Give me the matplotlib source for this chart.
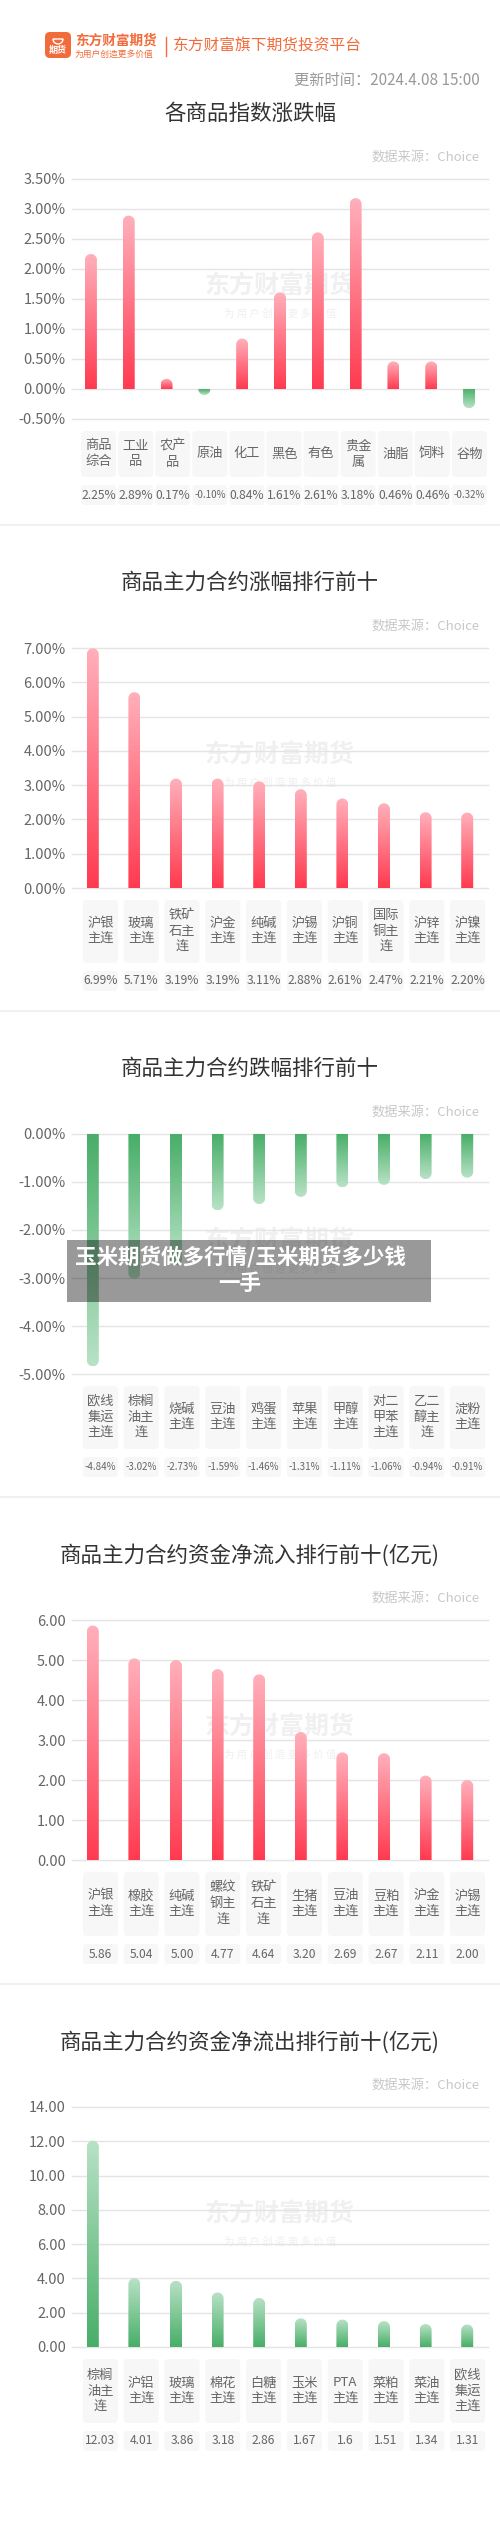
import numpy as np
import matplotlib
matplotlib.use('Agg')
import matplotlib.pyplot as plt
from matplotlib.patches import FancyBboxPatch, Polygon, Rectangle
from matplotlib.colors import LinearSegmentedColormap

plt.rcParams['font.family'] = ['Noto Sans CJK SC', 'DejaVu Sans']

# ---- data ----
update_time = "更新时间：2024.4.08 15:00"

idx_names = ["商品综合", "工业品", "农产品", "原油", "化工", "黑色", "有色", "贵金属", "油脂", "饲料", "谷物"]
idx_chg = [2.25, 2.89, 0.17, -0.10, 0.84, 1.61, 2.61, 3.18, 0.46, 0.46, -0.32]

up_names = ["沪银主连", "玻璃主连", "铁矿石主连", "沪金主连", "纯碱主连", "沪锡主连", "沪铜主连", "国际铜主连", "沪锌主连", "沪镍主连"]
up_chg = [6.99, 5.71, 3.19, 3.19, 3.11, 2.88, 2.61, 2.47, 2.21, 2.20]

down_names = ["欧线集运主连", "棕榈油主连", "烧碱主连", "豆油主连", "鸡蛋主连", "苹果主连", "甲醇主连", "对二甲苯主连", "乙二醇主连", "淀粉主连"]
down_chg = [-4.84, -3.02, -2.73, -1.59, -1.46, -1.31, -1.11, -1.06, -0.94, -0.91]

in_names = ["沪银主连", "橡胶主连", "纯碱主连", "螺纹钢主连", "铁矿石主连", "生猪主连", "豆油主连", "豆粕主连", "沪金主连", "沪锡主连"]
in_vals = [5.86, 5.04, 5.00, 4.77, 4.64, 3.20, 2.69, 2.67, 2.11, 2.00]

out_names = ["棕榈油主连", "沪铝主连", "玻璃主连", "棉花主连", "白糖主连", "玉米主连", "PTA主连", "菜粕主连", "菜油主连", "欧线集运主连"]
out_vals = [12.03, 4.01, 3.86, 3.18, 2.86, 1.67, 1.6, 1.51, 1.34, 1.31]

# ---- figure ----
W, H = 500, 2542
fig = plt.figure(figsize=(W / 100, H / 100), dpi=100)
fig.patch.set_facecolor('white')

RED = ('#ff3a50', '#ffb0bb')     # base, tip
GREEN = ('#48ae68', '#b8e2c6')
ORANGE = '#f26b3a'


def px_box(x0, y0, x1, y1):
    return [x0 / W, 1 - y1 / H, (x1 - x0) / W, (y1 - y0) / H]


def fy(y):
    return 1 - y / H


def wrap2(s):
    lines, cur, w = [], '', 0
    for ch in s:
        cw = 0.5 if ord(ch) < 128 else 1
        if w + cw > 2:
            lines.append(cur)
            cur, w = '', 0
        cur += ch
        w += cw
    if cur:
        lines.append(cur)
    return '\n'.join(lines)


def by_sign(v):
    return GREEN if v < 0 else RED


def draw_bar(ax, x, v, ppx, ppy, cols, bar_px=12):
    hw = bar_px / 2 / ppx
    r = bar_px / 2 / ppy
    sgn = 1 if v >= 0 else -1
    cy = v - sgn * r
    t = np.linspace(0, np.pi, 60)
    verts = [(x + hw, 0)] + list(zip(x + hw * np.cos(t), cy + sgn * r * np.sin(t))) + [(x - hw, 0)]
    poly = Polygon(verts, closed=True, facecolor='none', edgecolor='none')
    ax.add_patch(poly)
    cmap = LinearSegmentedColormap.from_list('bar', [cols[0], cols[1]])
    grad = np.linspace(0, 1, 128).reshape(-1, 1)
    if v < 0:
        grad = grad[::-1]
    im = ax.imshow(grad, cmap=cmap, extent=(x - hw, x + hw, min(0, v), max(0, v)),
                   origin='lower', aspect='auto', interpolation='bilinear', zorder=3)
    im.set_clip_path(poly)


def chart(title_y, title, names, vals, ymin, ymax, step, tick_fmt, val_fmt, label_h,
          colour=by_sign, divider=True):
    n = len(names)
    src_y = title_y + 43
    top = title_y + 65
    bot = top + 240
    fig.text(0.5, fy(title_y), title, ha='center', va='center', fontsize=15.5, color='#333333')
    fig.text(479 / W, fy(src_y), "数据来源：Choice", ha='right', va='center', fontsize=9.5, color='#c8c8c8')

    ax = fig.add_axes(px_box(72, top, 488, bot))
    ax.set_facecolor('none')
    ppx = 416 / n
    ppy = 240 / (ymax - ymin)
    for i, v in enumerate(vals):
        draw_bar(ax, i, v, ppx, ppy, colour(v))
    ax.set_xlim(-0.5, n - 0.5)
    ax.set_ylim(ymin, ymax)
    ticks = np.arange(ymin, ymax + step / 2, step)
    ax.set_yticks(ticks)
    ax.set_yticklabels([tick_fmt(t) for t in ticks])
    ax.set_xticks([])
    ax.tick_params(axis='y', length=0, pad=4.5, labelsize=10.5, labelcolor='#666666')
    for s in ax.spines.values():
        s.set_visible(False)
    for t in ticks:
        ax.axhline(t, color='#e4e4e4', lw=1, zorder=1, clip_on=False)
    ax.text(0.5, 0.554, "东方财富期货", transform=ax.transAxes, ha='center', va='center',
            fontsize=18, fontweight='bold', color='#f0f0f0', zorder=0)
    ax.text(0.5, 0.437, "为 用 户 创 造 更 多 价 值", transform=ax.transAxes, ha='center', va='center',
            fontsize=7.5, color='#f0f0f0', zorder=0)

    slot = 408 / n
    bw = 35 / slot
    lt = bot + 12
    lab = fig.add_axes(px_box(80, lt, 488, lt + label_h))
    vt = lt + label_h + 8
    val = fig.add_axes(px_box(80, vt, 488, vt + 20))
    for a, h in ((lab, label_h), (val, 20)):
        a.set_xlim(-0.5, n - 0.5)
        a.set_ylim(0, 1)
        a.axis('off')
        for i in range(n):
            a.add_patch(FancyBboxPatch((i - bw / 2, 0), bw, 1,
                                       boxstyle='round,pad=0,rounding_size=%f' % (4 / slot),
                                       mutation_aspect=slot / h, fc='#f7f7f7', ec='none'))
    for i, (name, v) in enumerate(zip(names, vals)):
        lab.text(i, 0.5, wrap2(name), ha='center', va='center', fontsize=9.5,
                 color='#666666', linespacing=1.3)
        s = val_fmt(v)
        val.text(i, 0.5, s, ha='center', va='center', fontsize=7 if len(s) > 5 else 8.7, color='#666666')
    if divider:
        dy = vt + 20 + 20
        fig.add_artist(plt.Line2D([0, 1], [fy(dy), fy(dy)], color='#f0f0f0', lw=1.5))


# ---- header ----
deco = fig.add_axes([0, 0, 1, 1], zorder=0)
deco.set_xlim(0, W)
deco.set_ylim(H, 0)
deco.axis('off')
deco.add_patch(FancyBboxPatch((45, 32), 26, 26, boxstyle='round,pad=0,rounding_size=5', fc=ORANGE, ec='none'))
deco.add_patch(matplotlib.patches.Wedge((58, 39), 5, 0, 180, fc='none', ec='white', lw=1))
deco.text(58, 50.5, "期货", ha='center', va='center', fontsize=6.5, fontweight='bold', color='white')
deco.text(75, 41, "东方财富期货", ha='left', va='center', fontsize=9.8, fontweight='bold', color=ORANGE)
deco.text(75, 54, "为用户创造更多价值", ha='left', va='center', fontsize=6.3, color=ORANGE)
deco.plot([166, 166], [37, 56], color=ORANGE, lw=1)
deco.text(173, 45.5, "东方财富旗下期货投资平台", ha='left', va='center', fontsize=11.3, color=ORANGE)
deco.text(480, 80, update_time, ha='right', va='center', fontsize=11, color='#999999')

# ---- charts ----
pct = lambda t: '%.2f%%' % t
num = lambda t: '%.2f' % t
chart(114, "各商品指数涨跌幅", idx_names, idx_chg, -0.5, 3.5, 0.5, pct, pct, 46)
chart(583, "商品主力合约涨幅排行前十", up_names, up_chg, 0, 7, 1, pct, pct, 63)
chart(1069, "商品主力合约跌幅排行前十", down_names, down_chg, -5, 0, 1, pct, pct, 63)
chart(1555, "商品主力合约资金净流入排行前十(亿元)", in_names, in_vals, 0, 6, 1, num, num, 64)
chart(2042, "商品主力合约资金净流出排行前十(亿元)", out_names, out_vals, 0, 14, 2, num, lambda v: '%g' % v, 64,
      colour=lambda v: GREEN, divider=False)

# ---- overlay caption ----
top_ax = fig.add_axes([0, 0, 1, 1], zorder=20)
top_ax.set_xlim(0, W)
top_ax.set_ylim(H, 0)
top_ax.axis('off')
top_ax.patch.set_alpha(0)
top_ax.add_patch(Rectangle((67, 1240), 364, 62, fc='black', alpha=0.4, ec='none'))
top_ax.text(240, 1257, "玉米期货做多行情/玉米期货多少钱", ha='center', va='center', fontsize=15.5,
            fontweight='bold', color='white')
top_ax.text(240, 1283, "一手", ha='center', va='center', fontsize=15.5, fontweight='bold', color='white')

fig.savefig('out.png', dpi=100)
